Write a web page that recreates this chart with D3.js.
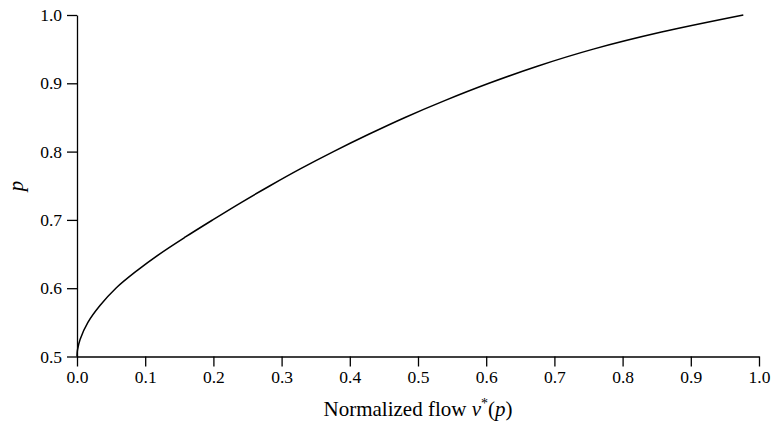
<!DOCTYPE html>
<html>
    <head>
        <meta charset="utf-8">
        <title>Normalized flow</title>
        <script src="https://cdn.jsdelivr.net/npm/d3@7/dist/d3.min.js"></script>
        <style>
            body { margin: 0; background: #fff; }
            svg text { font-family: 'Liberation Serif', 'Times New Roman', 'DejaVu Serif', serif !important; }
        </style>
    </head>
    <body>
        <script>
            // curve: probability p vs normalized flow v*(p)
            var pValues = [0.5, 0.505, 0.51, 0.525, 0.55, 0.575, 0.6, 0.625, 0.65, 0.675, 0.7, 0.725, 0.75,
                           0.775, 0.8, 0.825, 0.85, 0.875, 0.9, 0.925, 0.95, 0.975, 1.0];
            var flowValues = [0, 0.0002, 0.0008, 0.0045, 0.016, 0.034, 0.057, 0.087, 0.121, 0.159, 0.199, 0.240, 0.283,
                              0.328, 0.376, 0.427, 0.481, 0.540, 0.604, 0.675, 0.757, 0.857, 0.977];
            var xTicks = [0, 0.1, 0.2, 0.3, 0.4, 0.5, 0.6, 0.7, 0.8, 0.9, 1.0];
            var yTicks = [0.5, 0.6, 0.7, 0.8, 0.9, 1.0];

            var FONT = "'Liberation Serif', 'Times New Roman', 'DejaVu Serif', serif";
            var W = 773, H = 421;
            var margin = {top: 15, right: 14, bottom: 64.5, left: 77};
            var w = W - margin.left - margin.right,
                h = H - margin.top - margin.bottom;

            var data = pValues.map(function(p, i){ return {p: p, v: flowValues[i]}; });

            var x = d3.scaleLinear().domain([0, 1]).range([0, w]);
            var y = d3.scaleLinear().domain([0.5, 1]).range([h, 0]);

            var svg = d3.select("body").append("svg")
                .attr("width", W)
                .attr("height", H)
                .attr("font-family", FONT);
            var g = svg.append("g")
                .attr("transform", "translate(" + margin.left + "," + margin.top + ")");

            var xAxis = g.append("g")
                .attr("transform", "translate(0," + h + ")")
                .call(d3.axisBottom(x).tickValues(xTicks).tickFormat(d3.format(".1f"))
                    .tickSize(10).tickPadding(4.5).tickSizeOuter(0));
            var yAxis = g.append("g")
                .call(d3.axisLeft(y).tickValues(yTicks).tickFormat(d3.format(".1f"))
                    .tickSize(10).tickPadding(5).tickSizeOuter(0));

            [xAxis, yAxis].forEach(function(a){
                a.attr("font-family", FONT).attr("font-size", 17.5);
                a.selectAll("path, line").attr("stroke", "#000").attr("stroke-width", 1.3);
                a.selectAll("text").attr("fill", "#000");
            });

            g.append("path")
                .datum(data)
                .attr("fill", "none")
                .attr("stroke", "#000")
                .attr("stroke-width", 1.5)
                .attr("d", d3.line()
                    .x(function(d){ return x(d.v); })
                    .y(function(d){ return y(d.p); })
                    .curve(d3.curveCatmullRom.alpha(0.5)));

            // x label: Normalized flow v*(p)
            var xl = svg.append("text")
                .attr("x", margin.left + w / 2)
                .attr("y", 416)
                .attr("text-anchor", "middle")
                .attr("font-size", 21);
            xl.append("tspan").text("Normalized flow ");
            xl.append("tspan").attr("font-style", "italic").text("v");
            xl.append("tspan").attr("dy", -8).attr("font-size", 14).text("*");
            xl.append("tspan").attr("dy", 8).text("(");
            xl.append("tspan").attr("font-style", "italic").text("p");
            xl.append("tspan").text(")");

            // y label
            svg.append("text")
                .attr("transform", "translate(23,186) rotate(-90)")
                .attr("text-anchor", "middle")
                .attr("font-size", 21)
                .attr("font-style", "italic")
                .text("p");
        </script>
    </body>
</html>
